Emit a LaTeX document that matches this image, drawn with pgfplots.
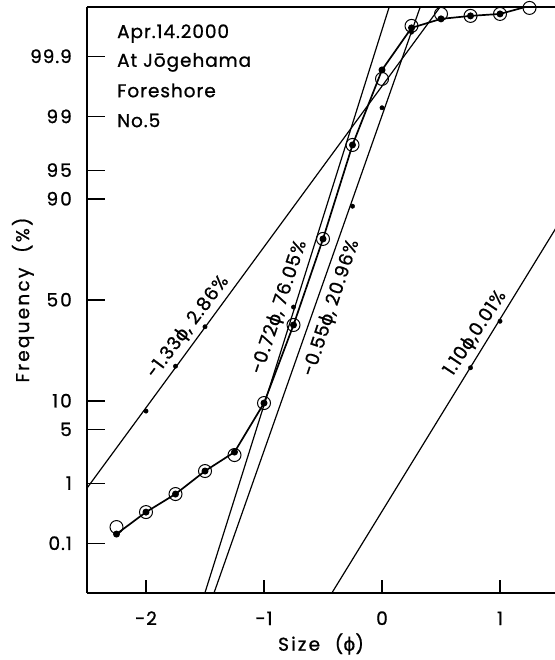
\documentclass[border=0pt]{standalone}
\usepackage{fontspec}
\setmainfont{Poppins}[FakeBold=0.9, LetterSpace=5]
\newfontfamily\phifont{DejaVu Sans}[FakeBold=0.6]
\usepackage{pgfplots}
\usetikzlibrary{calc}
\pgfplotsset{compat=1.18}
\newcommand{\phis}{{\phifont ϕ}}
\newcommand{\fs}{\fontsize{18.5}{22}\selectfont}
\newcommand{\fl}{\fontsize{18.5}{22}\selectfont\addfontfeatures{LetterSpace=12}}
\begin{document}
\begin{tikzpicture}
\begin{axis}[name=ax, scale only axis, width=468pt, height=586pt,
 xmin=-2.5, xmax=1.466, ymin=-3.719, ymax=3.719,
 axis x line=box, axis y line=left,
 axis line style={-, line width=1.5pt},
 tick align=inside, xtick pos=bottom, ytick pos=left,
 xtick={-2,-1,0,1}, xticklabels={-2,-1,0,1},
 ytick={-3.0902,-2.3263,-1.6449,-1.2816,0,1.2816,1.6449,2.3263,3.0902},
 yticklabels={0.1,1,5,1\kern2pt0,5\kern2pt0,9\kern2pt0,9\kern2pt5,9\kern2pt9,99.9},
 major tick length=18pt,
 xtick style={/pgfplots/major tick length=13pt},
 tick style={line width=1.1pt, black},
 ticklabel style={font=\fs, inner sep=0pt},
 xticklabel style={anchor=base, yshift=-32pt},
 yticklabel style={anchor=base east, xshift=-15pt, yshift=-6.5pt},
 xlabel={Size\hspace{0.8em}(\phis)}, ylabel={Frequency\hspace{0.8em}(\%)},
 label style={font=\fl},
 xlabel style={at={(axis description cs:0.5,-0.087)}, anchor=center},
 ylabel style={at={(axis description cs:-0.137,0.5)}, anchor=center},
 clip mode=individual,
]
% fitted component lines
\addplot[line width=1.2pt, black] coordinates {(-2.6,-2.592) (0.6,3.939)};
\addplot[line width=1.2pt, black] coordinates {(-1.55,-3.952) (0.08,3.810)};
\addplot[line width=1.2pt, black] coordinates {(-1.45,-3.830) (0.35,3.830)};
\addplot[line width=1.2pt, black] coordinates {(-0.45,-3.780) (1.55,1.098)};
% component dots
\addplot[only marks, mark=*, mark size=2.2pt, black] coordinates {
 (-2,-1.41) (-1.75,-0.84) (-1.5,-0.34)
 (-0.75,-0.09)
 (-0.25,1.19) (0,2.44) (0.25,3.40)
 (0.75,-0.86) (1.0,-0.27)};
% mixture curve
\addplot[line width=1.7pt, black, mark=*, mark size=2.6pt] coordinates {
 (-2.25,-2.971) (-2,-2.692) (-1.75,-2.463) (-1.5,-2.171) (-1.25,-1.930)
 (-1,-1.308) (-0.75,-0.317) (-0.5,0.775) (-0.25,1.968) (0,2.920)
 (0.25,3.454) (0.5,3.568) (0.75,3.606) (1.0,3.631) (1.25,3.733)};
% observed data
\addplot[only marks, mark=o, mark size=6.5pt, line width=1pt, black] coordinates {
 (-2.25,-2.882) (-2,-2.692) (-1.75,-2.463) (-1.5,-2.171) (-1.25,-1.968)
 (-1,-1.308) (-0.75,-0.317) (-0.5,0.775) (-0.25,1.968) (0,2.806)
 (0.25,3.479) (0.5,3.631) (0.75,3.606) (1.0,3.631) (1.25,3.707)};
% labels
\node[rotate=53, font=\fs, inner sep=1pt] at (axis cs:-1.644,-0.343) {-1.33\phis, 2.86\%};
\node[rotate=71.5, font=\fs, inner sep=1pt] at (axis cs:-0.87,-0.09) {-0.72\phis, 76.05\%};
\node[rotate=71.5, font=\fs, inner sep=1pt] at (axis cs:-0.43,-0.10) {-0.55\phis, 20.96\%};
\node[rotate=56.5, font=\fs, inner sep=1pt] at (axis cs:0.79,-0.42) {1.10\phis,0.01\%};
\node[anchor=base west, font=\fs, inner sep=0pt] at (axis description cs:0.064,0.947) {Apr.14.2000};
\node[anchor=base west, font=\fs, inner sep=0pt] at (axis description cs:0.064,0.898) {At Jōgehama};
\node[anchor=base west, font=\fs, inner sep=0pt] at (axis description cs:0.064,0.846) {Foreshore};
\node[anchor=base west, font=\fs, inner sep=0pt] at (axis description cs:0.064,0.795) {No.5};
\end{axis}
\pgfresetboundingbox
\path ($(ax.south west)+(-87pt,-67pt)$) rectangle ($(ax.north east)+(0pt,7pt)$);
\end{tikzpicture}
\end{document}
